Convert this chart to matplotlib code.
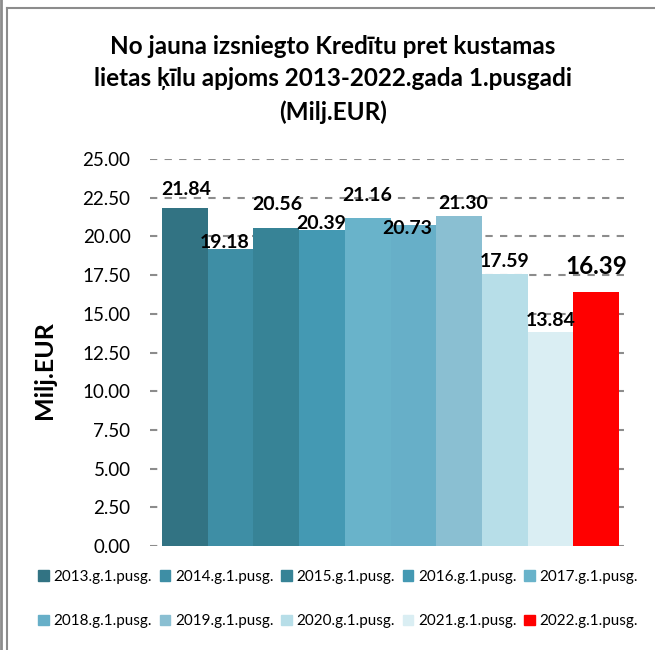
import numpy as np
import matplotlib
matplotlib.use('Agg')
import matplotlib.pyplot as plt
from matplotlib.lines import Line2D

plt.rcParams['font.family'] = ['Lato', 'DejaVu Sans']

# dati
gadi = ['2013.g.1.pusg.', '2014.g.1.pusg.', '2015.g.1.pusg.', '2016.g.1.pusg.', '2017.g.1.pusg.',
        '2018.g.1.pusg.', '2019.g.1.pusg.', '2020.g.1.pusg.', '2021.g.1.pusg.', '2022.g.1.pusg.']
vertibas = [21.84, 19.18, 20.56, 20.39, 21.16, 20.73, 21.30, 17.59, 13.84, 16.39]
y_ticks = [0, 2.5, 5, 7.5, 10, 12.5, 15, 17.5, 20, 22.5, 25]

krasas = ['#327383', '#3e8ea5', '#378396', '#4499b3', '#69b3ca',
          '#67afc8', '#8abfd2', '#b7dee8', '#daeef3', '#ff0000']
# etiketes novirze (pikseli) - kā oriģinālā
etik_dx = [1, -6, 1, -1, 0, -6, 4, 0, 0, 0]
etik_dy = [18, 7, 23, 7, 23, -3, 13, 12, 11, 26]

W, H = 655, 650
fig = plt.figure(figsize=(W / 100, H / 100), dpi=100)

ax = fig.add_axes([150 / W, 104 / H, 478 / W, 387 / H])
x = np.arange(len(vertibas))
ax.bar(x, vertibas, width=1.0, color=krasas, zorder=2)

for i, v in enumerate(vertibas):
    liels = (i == len(vertibas) - 1)
    ax.annotate(f'{v:.2f}', (x[i], v), xytext=(etik_dx[i], etik_dy[i]),
                textcoords='offset pixels', ha='center', va='center',
                fontsize=17.5 if liels else 14, fontweight='bold', zorder=3)

ax.set_ylim(0, 25)
ax.set_xlim(-0.763, 9.697)
ax.set_yticks(y_ticks)
ax.set_yticklabels([f'{t:.2f}' for t in y_ticks])
ax.set_xticks([])
ax.tick_params(axis='y', length=0, pad=14, labelsize=13.5)
for s in ax.spines.values():
    s.set_visible(False)
ax.yaxis.grid(True, color='#8c8c8c', linewidth=1.5, dashes=(3.5, 3.5), zorder=0)
ax.set_axisbelow(True)

# virsraksts un ass nosaukums
fig.text(333 / W, 1 - 35 / H,
         'No jauna izsniegto Kredītu pret kustamas\nlietas ķīlu apjoms 2013-2022.gada 1.pusgadi\n(Milj.EUR)',
         ha='center', va='top', fontsize=17.5, fontweight='bold', linespacing=1.5)
fig.text(45 / W, 1 - 370 / H, 'Milj.EUR', rotation=90, ha='center', va='center',
         fontsize=18, fontweight='bold')

# leģenda - rindās pa 5
rokturi = [plt.Rectangle((0, 0), 1, 1, color=k) for k in krasas]
seciba = [0, 5, 1, 6, 2, 7, 3, 8, 4, 9]
fig.legend([rokturi[j] for j in seciba], [gadi[j] for j in seciba],
           loc='center', bbox_to_anchor=(338 / W, 1 - 599 / H), ncol=5,
           frameon=False, fontsize=11, handlelength=0.7, handleheight=0.7,
           handletextpad=0.3, columnspacing=0.5, labelspacing=2.0)

# rāmji
fig.add_artist(Line2D([1 / W, 1 / W], [0, 1], color='#8c8c8c', linewidth=2))
fig.add_artist(Line2D([7 / W, 7 / W], [0, 1 - 8 / H], color='#8c8c8c', linewidth=1.5))
fig.add_artist(Line2D([7 / W, 1], [1 - 8 / H, 1 - 8 / H], color='#8c8c8c', linewidth=1.5))

plt.savefig('out.png', dpi=100)
